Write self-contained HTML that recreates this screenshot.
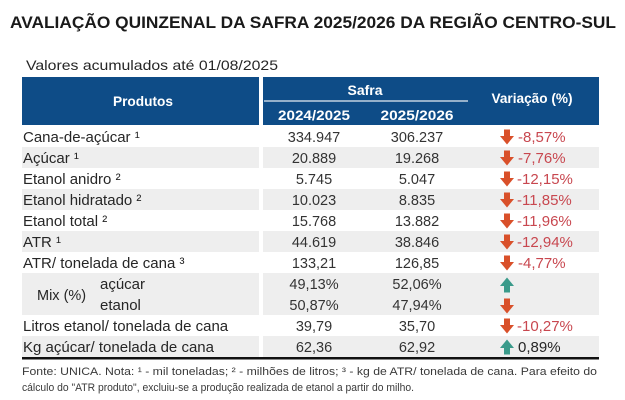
<!DOCTYPE html>
<html><head><meta charset="utf-8"><style>
html,body{margin:0;padding:0;background:#fff;}
svg{display:block;}
text{font-family:"Liberation Sans",sans-serif;}
</style></head><body>
<svg width="625" height="400" viewBox="0 0 625 400" xmlns="http://www.w3.org/2000/svg">
<rect width="625" height="400" fill="#fff"/>
<!-- Title -->
<text x="10" y="28" font-size="17" font-weight="bold" fill="#1a1a1a" textLength="606" lengthAdjust="spacingAndGlyphs">AVALIAÇÃO QUINZENAL DA SAFRA 2025/2026 DA REGIÃO CENTRO-SUL</text>
<text x="26" y="70" font-size="14" fill="#262626" textLength="252" lengthAdjust="spacingAndGlyphs">Valores acumulados até 01/08/2025</text>

<!-- Header -->
<rect x="22" y="77" width="237" height="48" fill="#0e4c87"/>
<rect x="263" y="77" width="336" height="48" fill="#0e4c87"/>
<line x1="264" y1="101" x2="468" y2="101" stroke="#e6ecf3" stroke-width="1.3"/>
<g fill="#fff" font-weight="bold" font-size="14">
<text x="143" y="106" text-anchor="middle" textLength="60" lengthAdjust="spacingAndGlyphs">Produtos</text>
<text x="365" y="95" text-anchor="middle" textLength="35" lengthAdjust="spacingAndGlyphs">Safra</text>
<text x="314" y="120" text-anchor="middle" textLength="72" lengthAdjust="spacingAndGlyphs">2024/2025</text>
<text x="417" y="120" text-anchor="middle" textLength="73" lengthAdjust="spacingAndGlyphs">2025/2026</text>
<text x="532" y="103" text-anchor="middle" textLength="81" lengthAdjust="spacingAndGlyphs">Variação (%)</text>
</g>

<!-- Gray bands -->
<g fill="#eeeeee">
<rect x="22" y="147" width="237" height="21"/><rect x="263" y="147" width="336" height="21"/>
<rect x="22" y="189" width="237" height="21"/><rect x="263" y="189" width="336" height="21"/>
<rect x="22" y="231" width="237" height="21"/><rect x="263" y="231" width="336" height="21"/>
<rect x="22" y="273" width="237" height="42"/><rect x="263" y="273" width="336" height="42"/>
<rect x="22" y="336" width="237" height="21"/><rect x="263" y="336" width="336" height="21"/>
</g>
<rect x="22" y="357" width="577" height="2.5" fill="#111"/>

<!-- Labels -->
<g font-size="15" fill="#262626">
<text x="23" y="142">Cana-de-açúcar ¹</text>
<text x="23" y="163">Açúcar ¹</text>
<text x="23" y="184">Etanol anidro ²</text>
<text x="23" y="205">Etanol hidratado ²</text>
<text x="23" y="226">Etanol total ²</text>
<text x="23" y="247">ATR ¹</text>
<text x="23" y="268">ATR/ tonelada de cana ³</text>
<text x="37" y="300" font-size="14.5">Mix (%)</text>
<text x="100" y="289">açúcar</text>
<text x="100" y="310">etanol</text>
<text x="23" y="331">Litros etanol/ tonelada de cana</text>
<text x="23" y="352">Kg açúcar/ tonelada de cana</text>
</g>

<!-- Numbers -->
<g font-size="14.5" fill="#333" text-anchor="middle">
<text x="314" y="142">334.947</text><text x="417" y="142">306.237</text>
<text x="314" y="163">20.889</text><text x="417" y="163">19.268</text>
<text x="314" y="184">5.745</text><text x="417" y="184">5.047</text>
<text x="314" y="205">10.023</text><text x="417" y="205">8.835</text>
<text x="314" y="226">15.768</text><text x="417" y="226">13.882</text>
<text x="314" y="247">44.619</text><text x="417" y="247">38.846</text>
<text x="314" y="268">133,21</text><text x="417" y="268">126,85</text>
<text x="314" y="289">49,13%</text><text x="417" y="289">52,06%</text>
<text x="314" y="310">50,87%</text><text x="417" y="310">47,94%</text>
<text x="314" y="331">39,79</text><text x="417" y="331">35,70</text>
<text x="314" y="352">62,36</text><text x="417" y="352">62,92</text>
</g>

<!-- Arrows -->
<defs>
<path id="dn" d="M-3,-7.5 L3,-7.5 L3,-1 L7,-1 L0,7.5 L-7,-1 L-3,-1 Z" fill="#d9502a"/>
<path id="up" d="M-3,7.5 L3,7.5 L3,1 L7,1 L0,-7.5 L-7,1 L-3,1 Z" fill="#3a9a8a"/>
</defs>
<use href="#dn" x="507" y="137"/>
<use href="#dn" x="507" y="158"/>
<use href="#dn" x="507" y="179"/>
<use href="#dn" x="507" y="200"/>
<use href="#dn" x="507" y="221"/>
<use href="#dn" x="507" y="242"/>
<use href="#dn" x="507" y="263"/>
<use href="#up" x="507" y="285"/>
<use href="#dn" x="507" y="306"/>
<use href="#dn" x="507" y="326"/>
<use href="#up" x="507" y="347"/>

<!-- Percentages -->
<g font-size="15" fill="#c8474f">
<text x="518" y="142">-8,57%</text>
<text x="518" y="163">-7,76%</text>
<text x="517" y="184">-12,15%</text>
<text x="517" y="205">-11,85%</text>
<text x="517" y="226">-11,96%</text>
<text x="517" y="247">-12,94%</text>
<text x="518" y="268">-4,77%</text>
<text x="517" y="331">-10,27%</text>
</g>
<text x="518" y="352" font-size="15" fill="#262626">0,89%</text>

<!-- Footnote -->
<g font-size="11" fill="#3a3a3a">
<text x="22" y="375" textLength="575" lengthAdjust="spacingAndGlyphs">Fonte: UNICA. Nota: ¹ - mil toneladas; ² - milhões de litros; ³ - kg de ATR/ tonelada de cana. Para efeito do</text>
<text x="22" y="391" textLength="392" lengthAdjust="spacingAndGlyphs">cálculo do "ATR produto", excluiu-se a produção realizada de etanol a partir do milho.</text>
</g>
</svg>
</body></html>
